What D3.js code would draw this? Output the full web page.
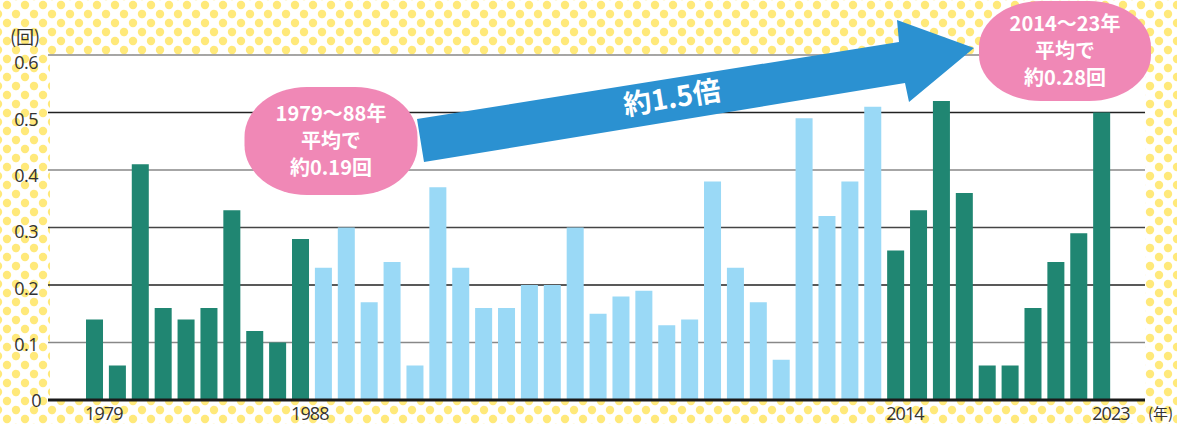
<!DOCTYPE html>
<html>
<head>
<meta charset="utf-8">
<script src="https://cdn.jsdelivr.net/npm/d3@7"></script>
<style>
  html, body { margin: 0; padding: 0; background: #fff; }
  svg { display: block; }
  text { font-family: "Open Sans", "Noto Sans", sans-serif; }
  .jp { font-family: "Noto Sans CJK JP", "Noto Sans", sans-serif; }
</style>
</head>
<body>
<div id="chart"></div>
<script>
// 年ごとの回数（1979〜2023）
const years = d3.range(1979, 2024);
const values = [
  0.14, 0.06, 0.41, 0.16, 0.14, 0.16, 0.33, 0.12, 0.10, 0.28,
  0.23, 0.30, 0.17, 0.24, 0.06, 0.37, 0.23, 0.16, 0.16, 0.20,
  0.20, 0.30, 0.15, 0.18, 0.19, 0.13, 0.14, 0.38, 0.23, 0.17,
  0.07, 0.49, 0.32, 0.38, 0.51, 0.26, 0.33, 0.52, 0.36, 0.06,
  0.06, 0.16, 0.24, 0.29, 0.50
];
// 強調する期間
const periodA = [1979, 1988];
const periodB = [2014, 2023];

const yTicks = [0, 0.1, 0.2, 0.3, 0.4, 0.5, 0.6];
const yTickLabels = ["0", "0.1", "0.2", "0.3", "0.4", "0.5", "0.6"];
const xTickYears = [1979, 1988, 2014, 2023];

const bubbleA = ["1979〜88年", "平均で", "約0.19回"];
const bubbleB = ["2014〜23年", "平均で", "約0.28回"];
const arrowLabel = "約1.5倍";

const W = 1177, H = 424;
const plot = { left: 50, right: 1145, top: 55, bottom: 400 };

const svg = d3.select("#chart").append("svg").attr("width", W).attr("height", H);

// 水玉の背景
const defs = svg.append("defs");
const pat = defs.append("pattern")
  .attr("id", "dots").attr("patternUnits", "userSpaceOnUse")
  .attr("width", 18).attr("height", 18);
pat.append("rect").attr("width", 18).attr("height", 18).attr("fill", "#fff");
[[7, 5], [16, 14], [-2, 14], [7, 23], [16, -4]].forEach(([cx, cy]) =>
  pat.append("circle").attr("cx", cx).attr("cy", cy).attr("r", 4.2).attr("fill", "#ffe97a"));
svg.append("rect").attr("width", W).attr("height", H).attr("fill", "url(#dots)");

// プロット領域（白）
svg.append("rect")
  .attr("x", plot.left).attr("y", plot.top)
  .attr("width", plot.right - plot.left).attr("height", plot.bottom - plot.top)
  .attr("fill", "#fff");

// スケール
const pi = 0.257, po = pi / 2;
const x = d3.scaleBand().domain(years).range([83.06, 1113.1]).paddingInner(pi).paddingOuter(po);
const y = d3.scaleLinear().domain([0, 0.6]).range([plot.bottom, plot.top]);

// 目盛り線
const gridColor = ["#222", "#888", "#222", "#444", "#888", "#222", "#888"];
svg.append("g").selectAll("line")
  .data(yTicks.filter(d => d > 0))
  .join("line")
  .attr("x1", plot.left - 2).attr("x2", plot.right)
  .attr("y1", d => y(d)).attr("y2", d => y(d))
  .attr("stroke", (d, i) => gridColor[i + 1])
  .attr("stroke-width", 1.3);

// 棒
const inPeriod = yr => (yr >= periodA[0] && yr <= periodA[1]) || (yr >= periodB[0] && yr <= periodB[1]);
svg.append("g").selectAll("rect")
  .data(years.map((yr, i) => ({ yr, v: values[i] })))
  .join("rect")
  .attr("x", d => x(d.yr))
  .attr("width", x.bandwidth())
  .attr("y", d => y(d.v))
  .attr("height", d => y(0) - y(d.v))
  .attr("fill", d => inPeriod(d.yr) ? "#208672" : "#9ad9f6");

// 0の基線
svg.append("line")
  .attr("x1", plot.left - 2).attr("x2", plot.right)
  .attr("y1", y(0)).attr("y2", y(0))
  .attr("stroke", "#1a1a1a").attr("stroke-width", 3);

// Y軸ラベル（上ほど少し下にずれている）
svg.append("g").selectAll("text")
  .data(yTicks)
  .join("text")
  .attr("x", d => d === 0 ? 41 : 38)
  .attr("y", d => y(d) + 1 + 7 * d / 0.6)
  .attr("dy", "0.35em")
  .attr("text-anchor", "end")
  .attr("font-size", 18)
  .attr("letter-spacing", "-0.5px")
  .attr("fill", "#333")
  .text((d, i) => yTickLabels[i]);

svg.append("text").attr("class", "jp")
  .attr("x", 10).attr("y", 44)
  .attr("font-size", 18).attr("fill", "#333")
  .text("(回)");

// X軸ラベル（棒の左端にそろえる）
svg.append("g").selectAll("text")
  .data(xTickYears)
  .join("text")
  .attr("x", d => x(d) - 1)
  .attr("y", 420)
  .attr("font-size", 18)
  .attr("letter-spacing", "-0.9px")
  .attr("fill", "#333")
  .text(d => d);

svg.append("text").attr("class", "jp")
  .attr("x", 1148).attr("y", 419)
  .attr("font-size", 15).attr("fill", "#333")
  .text("(年)");

// 矢印
const arrowPts = [[424, 162], [905, 83], [909, 102], [974, 48], [897, 20], [899, 42], [417, 119]];
svg.append("path")
  .attr("d", d3.line()(arrowPts) + "Z")
  .attr("fill", "#2b91d1");

svg.append("text").attr("class", "jp")
  .attr("transform", "translate(672,98) rotate(-9.3)")
  .attr("text-anchor", "middle")
  .attr("dy", "0.35em")
  .attr("font-size", 28).attr("font-weight", 700)
  .attr("fill", "#fff")
  .text(arrowLabel);

// 吹き出し
function bubble(cx, cy, w, h, lines) {
  const g = svg.append("g");
  g.append("rect")
    .attr("x", cx - w / 2).attr("y", cy - h / 2)
    .attr("width", w).attr("height", h)
    .attr("rx", w * 0.36).attr("ry", h * 0.46)
    .attr("fill", "#f088b6");
  g.selectAll("text")
    .data(lines)
    .join("text")
    .attr("class", "jp")
    .attr("x", cx)
    .attr("y", (d, i) => cy + (i - 1) * 27)
    .attr("dy", "0.36em")
    .attr("text-anchor", "middle")
    .attr("font-size", 20).attr("font-weight", 700)
    .attr("fill", "#fff")
    .text(d => d);
}
bubble(331, 141, 173, 108, bubbleA);
bubble(1065, 51, 172, 100, bubbleB);
</script>
</body>
</html>
